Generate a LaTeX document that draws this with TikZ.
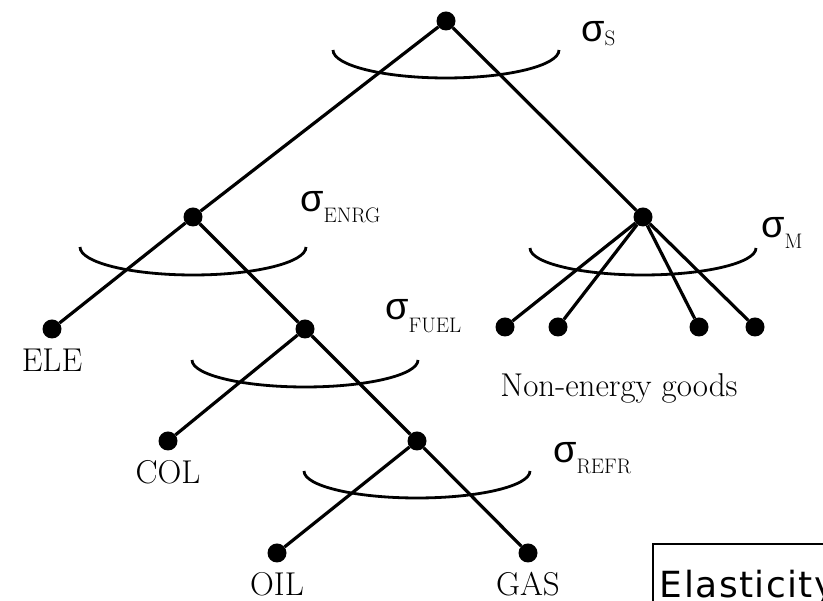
\documentclass[tikz,border=0pt]{standalone}
\usepackage{fontspec}
\newfontfamily\sigmafont{Liberation Sans}
\newfontfamily\boxfont[LetterSpace=4]{DejaVu Sans}
\usetikzlibrary{positioning}

% elasticity label: sigma with a lowered subscript
\newcommand\elast[2][11pt]{{\sigmafont\fontsize{38}{40}\selectfont σ}\raisebox{-#1}{\fontsize{21}{24}\selectfont #2}}

\begin{document}
\begin{tikzpicture}[
        x=1pt, y=1pt,
        dot/.style={circle, fill=black, inner sep=0pt, minimum size=19pt},
        branch/.style={line width=3.2pt},
        nest/.style={line width=2.8pt},
        leaflabel/.style={font=\fontsize{33}{38}\selectfont, anchor=base, inner sep=0pt},
        siglabel/.style={anchor=base west, inner sep=0pt},
        elabox/.style={draw, line width=1.8pt, anchor=north west, inner xsep=7pt, inner ysep=10pt, text height=34pt, text width=244pt, minimum height=80pt, align=left, font=\boxfont\fontsize{36}{40}\selectfont}
    ]
    \useasboundingbox (0,0) rectangle (823,601);

    % --- Tree nodes ---
    \node[dot] (top) at (446,580) {};
    \node[dot] (enrg) at (193,384) {};
    \node[dot] (mat) at (643,384) {};
    \node[dot] (ele) at (52,272) {};
    \node[dot] (fuel) at (305,272) {};
    \node[dot] (ne1) at (505,274) {};
    \node[dot] (ne2) at (558,274) {};
    \node[dot] (ne3) at (699,274) {};
    \node[dot] (ne4) at (755,274) {};
    \node[dot] (col) at (168,160) {};
    \node[dot] (refr) at (417,160) {};
    \node[dot] (oil) at (277,48) {};
    \node[dot] (gas) at (528,48) {};

    % --- Branches ---
    \draw[branch] (top) -- (enrg);
    \draw[branch] (top) -- (mat);
    \draw[branch] (enrg) -- (ele);
    \draw[branch] (enrg) -- (fuel);
    \draw[branch] (mat) -- (ne1);
    \draw[branch] (mat) -- (ne2);
    \draw[branch] (mat) -- (ne3);
    \draw[branch] (mat) -- (ne4);
    \draw[branch] (fuel) -- (col);
    \draw[branch] (fuel) -- (refr);
    \draw[branch] (refr) -- (oil);
    \draw[branch] (refr) -- (gas);

    % --- Nesting arcs ---
    \draw[nest] ([shift={(-113,-29)}]top.center) arc[start angle=180, end angle=360, x radius=113, y radius=28];
    \draw[nest] ([shift={(-113,-30)}]enrg.center) arc[start angle=180, end angle=360, x radius=113, y radius=28];
    \draw[nest] ([shift={(-113,-31)}]mat.center) arc[start angle=180, end angle=360, x radius=113, y radius=27];
    \draw[nest] ([shift={(-113,-31)}]fuel.center) arc[start angle=180, end angle=360, x radius=113, y radius=27];
    \draw[nest] ([shift={(-113,-30)}]refr.center) arc[start angle=180, end angle=360, x radius=113, y radius=27];

    % --- Elasticities ---
    \node[siglabel] (sigs) at (581,559) {\elast[4pt]{S}};
    \node[siglabel] (sigenrg) at (300,389) {\elast{ENRG}};
    \node[siglabel] (sigm) at (761,363) {\elast{M}};
    \node[siglabel] (sigfuel) at (385,281) {\elast[13pt]{FUEL}};
    \node[siglabel] (sigrefr) at (553,138) {\elast{REFR}};

    % --- Goods ---
    \node[leaflabel] (elelab) at (52,229) {ELE};
    \node[leaflabel] (collab) at (168,117) {COL};
    \node[leaflabel] (oillab) at (277,5) {OIL};
    \node[leaflabel] (gaslab) at (528,5) {GAS};
    \node[leaflabel] (nonen) at (619,204) {Non-energy goods};

    \node[elabox] (elast) at (652,58) {Elasticity};
\end{tikzpicture}
\end{document}
